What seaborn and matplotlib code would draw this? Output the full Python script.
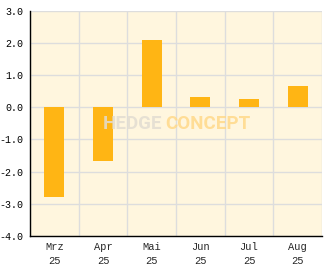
import matplotlib
matplotlib.use("Agg")
import matplotlib.pyplot as plt
import seaborn as sns
import numpy as np
import pandas as pd
from matplotlib.ticker import MultipleLocator, FixedLocator

months = ["Mrz\n25", "Apr\n25", "Mai\n25", "Jun\n25", "Jul\n25", "Aug\n25"]
values = [-2.80, -1.68, 2.09, 0.32, 0.26, 0.66]

df = pd.DataFrame({"month": months, "value": values})

sns.set_style("white")
plt.rcParams['font.family'] = ['Liberation Mono', 'DejaVu Sans Mono']

fig = plt.figure(figsize=(3.32, 2.69), dpi=100)
ax = fig.add_axes([30/332, (269-236)/269, (322-30)/332, (236-10.7)/269])
ax.set_facecolor("#FFF6DE")

sns.barplot(data=df, x="month", y="value", color="#FFB514", width=0.41,
            saturation=1, linewidth=0, ax=ax, zorder=3)

ax.set_xlim(-0.5, 5.5)
ax.set_ylim(-4, 3)
ax.yaxis.set_major_locator(MultipleLocator(1))
ax.yaxis.set_minor_locator(MultipleLocator(0.5))
ax.set_yticks(ax.get_yticks())
ax.set_yticklabels([f"{v:.1f}" for v in ax.get_yticks()])
ax.set_ylim(-4, 3)
ax.xaxis.set_minor_locator(FixedLocator(np.arange(-0.5, 6.0, 1.0)))

ax.grid(True, which="major", axis="y", color="#DDDDDD", lw=1, zorder=0)
ax.grid(True, which="minor", axis="x", color="#DDDDDD", lw=1, zorder=0)
ax.set_axisbelow(True)

ax.tick_params(axis="y", which="major", direction="out", length=4, width=1,
               labelsize=7.2, colors="black", pad=1)
ax.tick_params(axis="y", which="minor", direction="out", length=2, width=1)
ax.tick_params(axis="x", which="major", length=0, labelsize=7.5, pad=4)
ax.tick_params(axis="x", which="minor", direction="in", length=4, width=1)
for lab in ax.get_xticklabels():
    lab.set_linespacing(1.5)
ax.set_xlabel("")
ax.set_ylabel("")

for s in ["top", "right"]:
    ax.spines[s].set_visible(False)
for s in ["left", "bottom"]:
    ax.spines[s].set_color("black")
    ax.spines[s].set_linewidth(1)

ax.text(0.452, 0.497, "HEDGE", transform=ax.transAxes, ha="right", va="center",
        fontsize=13.5, fontweight="bold", color="#E2DDD2", alpha=0.85,
        family=["Roboto", "DejaVu Sans"], zorder=4)
ax.text(0.462, 0.497, "CONCEPT", transform=ax.transAxes, ha="left", va="center",
        fontsize=13.5, fontweight="bold", color="#FFD98A", alpha=0.85,
        family=["Roboto", "DejaVu Sans"], zorder=4)

fig.savefig("out.png", dpi=100)
